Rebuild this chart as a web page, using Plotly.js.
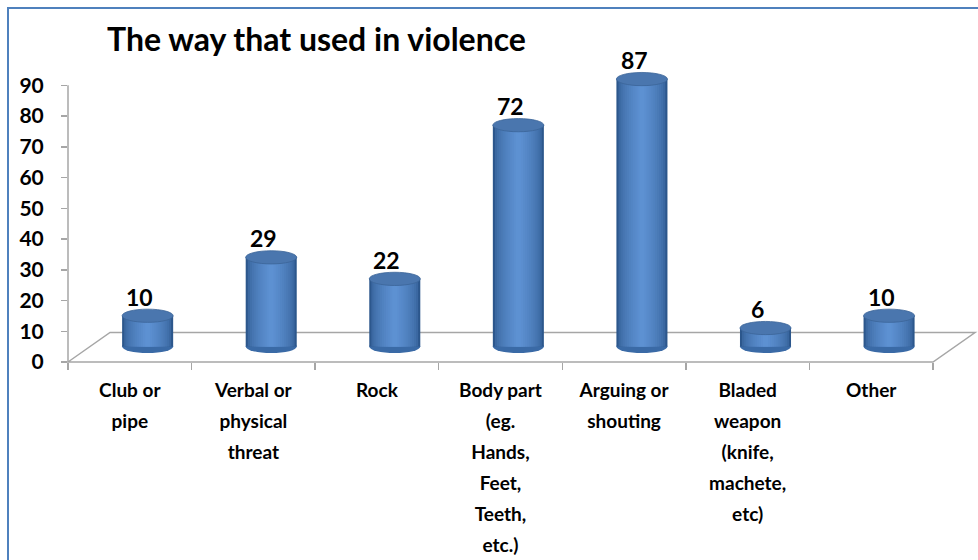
<!DOCTYPE html>
<html><head><meta charset="utf-8">
<script src="https://cdn.plot.ly/plotly-3.0.1.min.js"></script>
<style>
html,body{margin:0;padding:0;background:#fff;width:978px;height:560px;overflow:hidden;}
#chart{position:absolute;left:0;top:0;width:978px;height:560px;}
#frame{position:absolute;left:7px;top:7px;width:1100px;height:700px;border:2px solid #4F81BD;pointer-events:none;}
</style></head><body>
<div id="chart"></div><div id="frame"></div>
<script>
// ---- data ----
const categories = [
  "Club or pipe",
  "Verbal or physical threat",
  "Rock",
  "Body part (eg. Hands, Feet, Teeth, etc.)",
  "Arguing or shouting",
  "Bladed weapon (knife, machete, etc)",
  "Other"
];
const values = [10, 29, 22, 72, 87, 6, 10];
const tickLabelLines = [
  ["Club or", "pipe"],
  ["Verbal or", "physical", "threat"],
  ["Rock"],
  ["Body part", "(eg.", "Hands,", "Feet,", "Teeth,", "etc.)"],
  ["Arguing or", "shouting"],
  ["Bladed", "weapon", "(knife,", "machete,", "etc)"],
  ["Other"]
];
const yTickValues = [0, 10, 20, 30, 40, 50, 60, 70, 80, 90];
const chartTitle = "The way that used in violence";

// ---- style ----
const FONT = 'Lato, "Open Sans", "DejaVu Sans", sans-serif';
const GRAY = '#A6A6A6';
const barWidth = 0.413, barOffset = -0.062, ellH = 2.15;
// shading layers for the cylinder look (outer dark -> inner light)
const edgeRGB = [44, 87, 140], midRGB = [93, 145, 210];
const nLayers = 12;
const layers = [];
for (let j = 0; j < nLayers; j++) {
  const t = j / (nLayers - 1);
  const f = 1 - 0.9 * t;
  const e = Math.sqrt(t);
  const c = edgeRGB.map((a, k) => Math.round(a + (midRGB[k] - a) * e));
  layers.push({f: f, c: 'rgb(' + c.join(',') + ')'});
}
const lineGap = 31, firstStandoff = 15;

const traces = layers.map(L => ({
  type: 'bar', x: categories, y: values, xaxis: 'x', yaxis: 'y2',
  width: barWidth * L.f, offset: barOffset + barWidth * (1 - L.f) / 2,
  marker: {color: L.c, line: {width: 0}},
  showlegend: false, hoverinfo: 'skip', cliponaxis: false
}));

const maxLines = Math.max(...tickLabelLines.map(l => l.length));
const layout = {
  width: 978, height: 560,
  margin: {l: 68, r: 45, t: 70, b: 198},
  paper_bgcolor: '#fff', plot_bgcolor: 'rgba(0,0,0,0)',
  barmode: 'overlay', hovermode: false, showlegend: false,
  title: {
    text: chartTitle, xref: 'container', x: 107 / 978, xanchor: 'left',
    yref: 'container', y: 1 - 40 / 560, yanchor: 'middle',
    font: {family: FONT, size: 32, color: '#000', weight: 'bold'}
  },
  xaxis: {
    type: 'category', categoryorder: 'array', categoryarray: categories,
    range: [-0.5, categories.length - 0.5],
    ticks: 'outside', tickson: 'boundaries', ticklen: 7, tickcolor: GRAY, tickwidth: 1.5,
    showticklabels: false, showgrid: false, zeroline: false, showline: false
  },
  yaxis: {
    range: [0, 95], tickmode: 'array', tickvals: yTickValues,
    ticks: 'outside', ticklen: 6, tickcolor: GRAY, tickwidth: 1.5,
    showline: false, showgrid: false, zeroline: false,
    tickfont: {family: FONT, size: 21, color: '#000', weight: 'bold'},
    ticklabelstandoff: 13
  },
  yaxis2: {overlaying: 'y', range: [-5.05, 89.95], visible: false},
  shapes: [],
  annotations: []
};

for (let k = 0; k < maxLines; k++) {
  const name = 'x' + (k + 2);
  layout['xaxis' + (k + 2)] = {
    type: 'category', categoryorder: 'array', categoryarray: categories,
    range: [-0.5, categories.length - 0.5],
    overlaying: 'x', anchor: 'y', side: 'bottom',
    tickmode: 'array', tickvals: categories,
    ticktext: tickLabelLines.map(l => l[k] || ''),
    ticks: '', showline: false, showgrid: false, zeroline: false,
    tickfont: {family: FONT, size: 19, color: '#000', weight: 'bold'},
    ticklabelstandoff: firstStandoff + lineGap * k
  };
  traces.push({
    type: 'scatter', mode: 'markers', x: categories, y: categories.map(() => null),
    xaxis: name, yaxis: 'y', showlegend: false, hoverinfo: 'skip'
  });
}

// 3D floor outline (decoration)
layout.shapes.push({
  type: 'path', xref: 'paper', yref: 'paper',
  path: 'M0,0 L0.0486,0.101 L1.0486,0.101 L1,0 Z',
  line: {color: GRAY, width: 1.5}, layer: 'below'
});
// y axis line
layout.shapes.push({
  type: 'line', xref: 'paper', x0: 0, x1: 0, yref: 'y', y0: 0, y1: yTickValues[yTickValues.length - 1],
  line: {color: GRAY, width: 1.5}
});
// cylinder bottoms and tops
values.forEach((v, i) => {
  layout.shapes.push({
    type: 'circle', xref: 'x', yref: 'y2',
    x0: i + barOffset, x1: i + barOffset + barWidth, y0: -ellH, y1: ellH,
    fillcolor: '#3A6AA6', line: {width: 0}, layer: 'below'
  });
  layout.shapes.push({
    type: 'circle', xref: 'x', yref: 'y2',
    x0: i + barOffset, x1: i + barOffset + barWidth, y0: v - ellH, y1: v + ellH,
    fillcolor: '#4A76AE', line: {color: '#3B6598', width: 0.8}, layer: 'above'
  });
  layout.annotations.push({
    x: categories[i], xref: 'x', y: v, yref: 'y2', text: String(v),
    showarrow: false, xshift: 10, yshift: 19, yanchor: 'middle',
    font: {family: FONT, size: 23, color: '#000', weight: 'bold'}
  });
});

Plotly.newPlot('chart', traces, layout, {staticPlot: true, displayModeBar: false});
</script>
</body></html>
